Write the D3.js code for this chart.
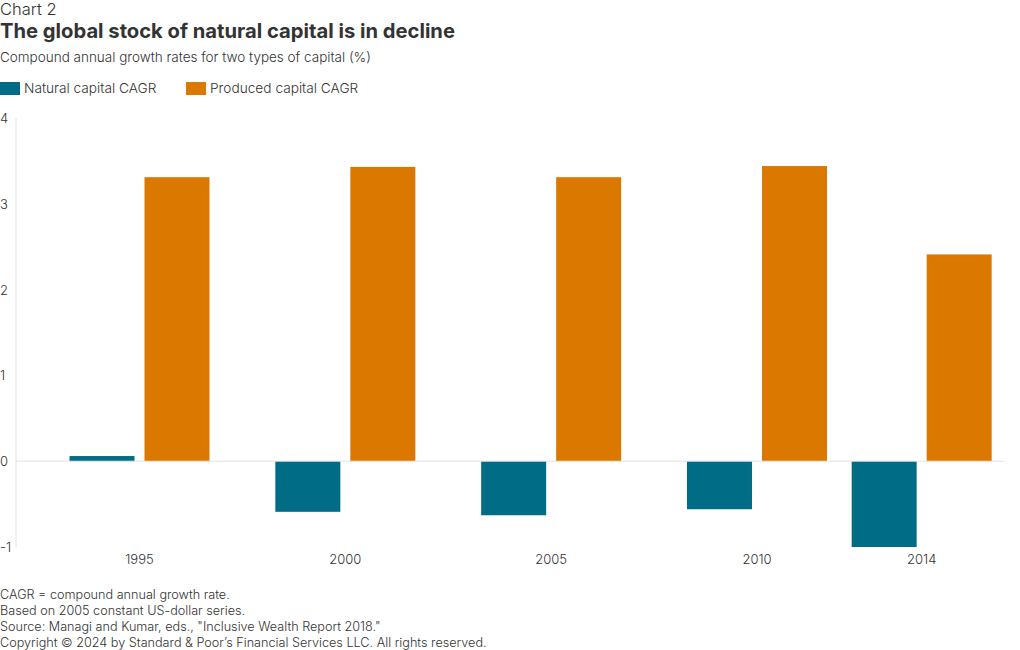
<!DOCTYPE html>
<html>
<head>
<meta charset="utf-8">
<script src="https://cdn.jsdelivr.net/npm/d3@7"></script>
<style>
  html, body { margin: 0; padding: 0; background: #fff; }
  svg { display: block; font-family: Inter, "Noto Sans", sans-serif; }
</style>
</head>
<body>
<svg id="chart" width="1020" height="650"></svg>
<script>
const years = [1995, 2000, 2005, 2010, 2014];
const naturalCAGR = [0.06, -0.59, -0.63, -0.56, -1.0];
const producedCAGR = [3.31, 3.43, 3.31, 3.44, 2.41];
const seriesNames = ["Natural capital CAGR", "Produced capital CAGR"];
const seriesColors = ["#006c86", "#da7800"];
const yTicks = [-1, 0, 1, 2, 3, 4];
const notes = [
  "CAGR = compound annual growth rate.",
  "Based on 2005 constant US-dollar series.",
  "Source: Managi and Kumar, eds., \"Inclusive Wealth Report 2018.\"",
  "Copyright \u00a9 2024 by Standard & Poor\u2019s Financial Services LLC. All rights reserved."
];

const svg = d3.select("#chart");
const textColor = "#333";

// Header
svg.append("text").attr("x", 0).attr("y", 15).attr("font-size", 16.5).attr("font-weight", 300)
  .attr("fill", textColor).text("Chart 2");
svg.append("text").attr("x", 0).attr("y", 38).attr("font-size", 20.2).attr("font-weight", 700)
  .attr("fill", textColor).text("The global stock of natural capital is in decline");
svg.append("text").attr("x", 0).attr("y", 62).attr("font-size", 13.5).attr("font-weight", 300)
  .attr("fill", textColor).text("Compound annual growth rates for two types of capital (%)");

// Legend
const legendX = [0, 186];
seriesNames.forEach((name, i) => {
  svg.append("rect").attr("x", legendX[i]).attr("y", 82).attr("width", 20).attr("height", 13)
    .attr("fill", seriesColors[i]);
  svg.append("text").attr("x", legendX[i] + 24).attr("y", 93).attr("font-size", 13.7)
    .attr("font-weight", 300).attr("fill", textColor).text(name);
});

// Scales
const x = d3.scaleLinear().domain([1992, 2016]).range([16, 1004]);
const y = d3.scaleLinear().domain([-1, 4]).range([547, 118]);
const barW = 65, gap = 10;

// Axis line
svg.append("line").attr("x1", 16).attr("x2", 16).attr("y1", y(4)).attr("y2", y(-1))
  .attr("stroke", "#e2e2e2").attr("stroke-width", 1);

// Y tick labels
svg.append("g").selectAll("text").data(yTicks).join("text")
  .attr("x", 0).attr("y", d => y(d) + 5).attr("font-size", 13).attr("font-weight", 300)
  .attr("fill", textColor).text(d => d);

// Bars
const data = years.map((yr, i) => ({ yr, nat: naturalCAGR[i], prod: producedCAGR[i] }));
const g = svg.append("g");
g.selectAll("rect.nat").data(data).join("rect").attr("class", "nat")
  .attr("x", d => x(d.yr) - gap / 2 - barW).attr("width", barW)
  .attr("y", d => y(Math.max(0, d.nat))).attr("height", d => Math.abs(y(d.nat) - y(0)))
  .attr("fill", seriesColors[0]);
g.selectAll("rect.prod").data(data).join("rect").attr("class", "prod")
  .attr("x", d => x(d.yr) + gap / 2).attr("width", barW)
  .attr("y", d => y(Math.max(0, d.prod))).attr("height", d => Math.abs(y(d.prod) - y(0)))
  .attr("fill", seriesColors[1]);

svg.append("line").attr("x1", 16).attr("x2", 1004).attr("y1", y(0)).attr("y2", y(0))
  .attr("stroke", "#e2e2e2").attr("stroke-width", 1);

// X labels
svg.append("g").selectAll("text").data(years).join("text")
  .attr("x", d => x(d)).attr("y", 564).attr("text-anchor", "middle").attr("font-size", 13)
  .attr("font-weight", 300).attr("fill", textColor).text(d => d);

// Notes
svg.append("g").selectAll("text").data(notes).join("text")
  .attr("x", 0).attr("y", (d, i) => 599 + i * 16).attr("font-size", 12.65).attr("font-weight", 300)
  .attr("fill", textColor).text(d => d);
</script>
</body>
</html>
